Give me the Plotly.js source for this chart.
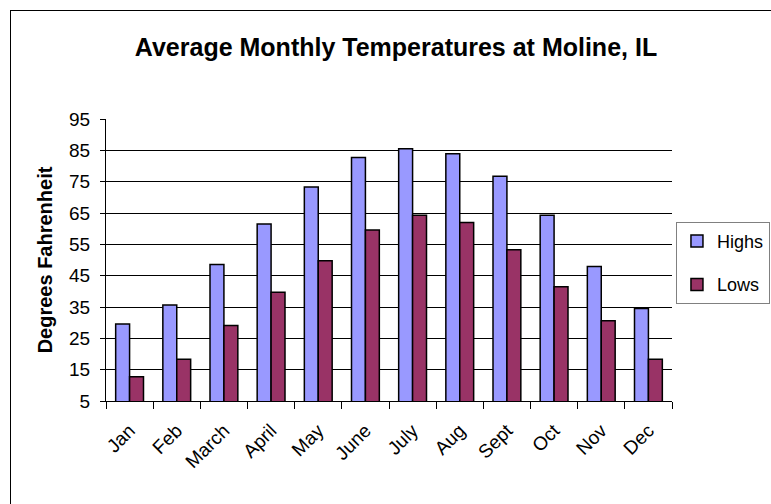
<!DOCTYPE html>
<html>
<head>
<meta charset="utf-8">
<script src="https://cdn.plot.ly/plotly-3.0.1.min.js"></script>
<style>
html,body{margin:0;padding:0;background:#fff;overflow:hidden;}
#wrap{position:relative;width:771px;height:504px;}
#chart{position:absolute;left:0;top:0;width:771px;height:504px;}
#frame{position:absolute;left:10px;top:10px;width:800px;height:560px;border:1px solid #000;pointer-events:none;}
</style>
</head>
<body>
<div id="wrap"><div id="chart"></div><div id="frame"></div></div>
<script>
const months = ["Jan","Feb","March","April","May","June","July","Aug","Sept","Oct","Nov","Dec"];
const highs = [29.6, 35.6, 48.6, 61.5, 73.3, 82.7, 85.5, 83.9, 76.7, 64.3, 47.9, 34.5];
const lows  = [12.7, 18.3, 29.1, 39.7, 49.8, 59.6, 64.3, 62.0, 53.3, 41.5, 30.6, 18.3];
const yTicks = [5, 15, 25, 35, 45, 55, 65, 75, 85, 95];
const gridVals = [15, 25, 35, 45, 55, 65, 75, 85];

const font = "Arial, 'Liberation Sans', sans-serif";

const traces = [
  {type:"bar", name:"Highs", x:months, y:highs, legendgroup:"a",
   marker:{color:"#9999FF", line:{color:"#000", width:1.5}}, hoverinfo:"y"},
  {type:"bar", name:"Lows", x:months, y:lows, legendgroup:"b",
   marker:{color:"#993366", line:{color:"#000", width:1.5}}, hoverinfo:"y"},
  {type:"scatter", x:[months[0]], y:[null], yaxis:"y2", showlegend:false, hoverinfo:"skip", mode:"lines"}
];

const layout = {
  width:771, height:504,
  paper_bgcolor:"#fff", plot_bgcolor:"rgba(0,0,0,0)",
  margin:{l:106, r:99, t:119, b:103, autoexpand:false},
  barmode:"group", bargap:0.41, bargroupgap:0,
  font:{family:font, color:"#000", size:19},
  title:{text:"<b>Average Monthly Temperatures at Moline, IL</b>",
         font:{family:font, size:25, color:"#000"},
         x:(396/771), xref:"container", xanchor:"center",
         y:(1-47/504), yref:"container", yanchor:"middle"},
  xaxis:{type:"category", tickson:"boundaries", ticks:"outside", ticklen:7,
         tickcolor:"#000", tickwidth:1, showline:true, linecolor:"#000", linewidth:1,
         tickangle:-45, tickfont:{size:19}, showgrid:false, zeroline:false,
         ticklabelstandoff:10, automargin:false, layer:"above traces"},
  yaxis:{range:[5,95], tickvals:yTicks, ticktext:yTicks.map(String),
         ticks:"outside", ticklen:5, tickcolor:"#000", showline:true, linecolor:"#000",
         linewidth:1, showgrid:false, zeroline:false, tickfont:{size:19},
         ticklabelstandoff:6, automargin:false,
         title:{text:"<b>Degrees Fahrenheit</b>", font:{size:20}, standoff:11}},
  yaxis2:{range:[5,95], overlaying:"y", tickvals:gridVals, showticklabels:false,
          ticks:"", showgrid:true, gridcolor:"#000", gridwidth:1, zeroline:false,
          showline:false, layer:"below traces"},
  legend:{x:1.007, xanchor:"left", y:0.49, yanchor:"middle",
          bordercolor:"#808080", borderwidth:1, bgcolor:"rgba(255,255,255,0)",
          font:{size:18}, traceorder:"grouped", tracegroupgap:17, itemwidth:30},
  showlegend:true
};

Plotly.newPlot("chart", traces, layout, {displayModeBar:false, staticPlot:true});
</script>
</body>
</html>
